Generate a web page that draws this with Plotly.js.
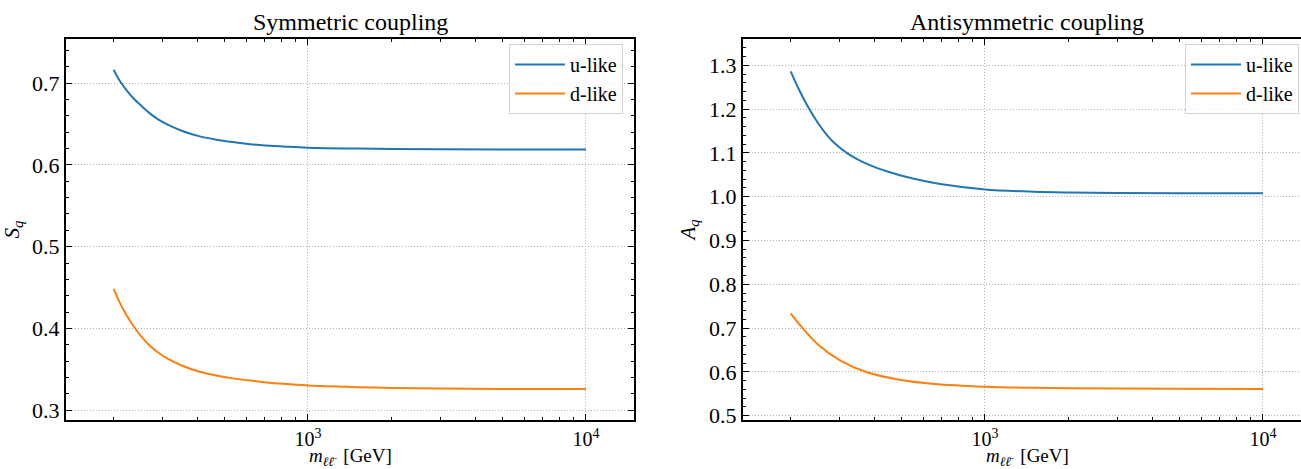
<!DOCTYPE html>
<html>
<head>
<meta charset="utf-8">
<script src="https://cdn.plot.ly/plotly-3.0.1.min.js"></script>
<style>
  body { margin: 0; background: #fff; }
  #frame { width: 1301px; height: 469px; overflow: hidden; }
  #plot { width: 1312px; height: 469px; }
</style>
</head>
<body>
<div id="frame"><div id="plot"></div></div>
<script>
// values (m in GeV)
const m_sym = [200, 210, 222, 235, 252, 270, 289, 310, 355, 408, 468, 537, 617, 708, 813, 1000, 1500, 2000, 3000, 5000, 10000];
const s_u   = [0.7164, 0.7032, 0.6917, 0.6818, 0.6720, 0.6630, 0.6556, 0.6498, 0.6411, 0.6349, 0.6309, 0.6279, 0.6254, 0.6238, 0.6226, 0.6210, 0.6200, 0.6195, 0.6192, 0.6190, 0.6189];
const s_d   = [0.4483, 0.4318, 0.4168, 0.4036, 0.3896, 0.3788, 0.3705, 0.3636, 0.3540, 0.3470, 0.3424, 0.3389, 0.3362, 0.3340, 0.3322, 0.3302, 0.3282, 0.3272, 0.3265, 0.3260, 0.3258];

const m_asym_u = [200, 214, 230, 250, 271, 294, 320, 348, 378, 410, 446, 498, 555, 700, 1000, 1500, 2000, 3000, 5000, 10000];
const a_u      = [1.2863, 1.2452, 1.2069, 1.1692, 1.1395, 1.1167, 1.0989, 1.0852, 1.0742, 1.0651, 1.0573, 1.0484, 1.0409, 1.0283, 1.0165, 1.0112, 1.0096, 1.0086, 1.0080, 1.0078];
const m_asym_d = [200, 217, 250, 303, 378, 498, 655, 1000, 1500, 2000, 3000, 5000, 10000];
const a_d      = [0.7333, 0.7053, 0.6632, 0.6251, 0.5984, 0.5815, 0.5724, 0.5662, 0.5635, 0.5625, 0.5618, 0.5613, 0.5610];

const series_names = ['u-like', 'd-like'];
const panel_titles = ['Symmetric coupling', 'Antisymmetric coupling'];
const x_label = '<i>m</i><sub><i>ℓℓ̄</i></sub>&nbsp; [GeV]';
const x_tick_vals = [1000, 10000];
const x_tick_text = ['10<sup>3</sup>', '10<sup>4</sup>'];

const W = 1312, H = 469;
const FONT = '"Liberation Serif", "Times New Roman", serif';
const BLUE = '#1f77b4', ORANGE = '#ff7f0e';

// minor tick positions on the log axis: 2..9 of each decade
const x_minor = [];
for (const dec of [100, 1000, 10000]) {
    for (let k = 2; k <= 9; k++) x_minor.push(k * dec);
}

function px(x) { return x / W; }
function py(y) { return (H - y) / H; }

const axisBase = {
    showline: true, linecolor: 'black', linewidth: 2, mirror: 'allticks',
    ticks: 'inside', ticklen: 6, tickwidth: 1, tickcolor: 'black',
    showgrid: true, gridcolor: '#b0b0b0', gridwidth: 1, griddash: '1px,2px',
    zeroline: false,
    tickfont: { family: FONT, size: 20, color: 'black' }
};

function xAxis(domain, anchor) {
    return Object.assign({}, axisBase, {
        type: 'log',
        domain: domain,
        anchor: anchor,
        range: [2.1295, 4.1727],
        tickmode: 'array',
        tickvals: x_tick_vals,
        ticktext: x_tick_text,
        minor: { tickmode: 'array', tickvals: x_minor, ticks: 'inside', ticklen: 3, tickwidth: 1, tickcolor: 'black', showgrid: false }
    });
}

function yAxis(domain, anchor, range, label) {
    return Object.assign({}, axisBase, {
        domain: domain,
        anchor: anchor,
        range: range,
        tick0: 0, dtick: 0.1,
        tickformat: '.1f',
        tickfont: { family: FONT, size: 22, color: 'black' },
        minor: { dtick: 0.02, ticks: 'inside', ticklen: 3, tickwidth: 1, tickcolor: 'black', showgrid: false },
        title: { text: label, font: { family: FONT, size: 21, color: 'black' }, standoff: 8 }
    });
}

const yDom = [py(420), py(39)];

const traces = [
    { x: m_sym, y: s_u, name: series_names[0], xaxis: 'x', yaxis: 'y', legend: 'legend' },
    { x: m_sym, y: s_d, name: series_names[1], xaxis: 'x', yaxis: 'y', legend: 'legend' },
    { x: m_asym_u, y: a_u, name: series_names[0], xaxis: 'x2', yaxis: 'y2', legend: 'legend2' },
    { x: m_asym_d, y: a_d, name: series_names[1], xaxis: 'x2', yaxis: 'y2', legend: 'legend2' }
].map((t, i) => Object.assign({
    type: 'scatter', mode: 'lines',
    line: { color: i % 2 === 0 ? BLUE : ORANGE, width: 2, shape: 'spline', smoothing: 1 },
    hoverinfo: 'skip'
}, t));

const legendBase = {
    xanchor: 'right', yanchor: 'top',
    bgcolor: 'rgba(255,255,255,0.8)', bordercolor: '#d4d4d4', borderwidth: 1,
    itemwidth: 50,
    font: { family: FONT, size: 20, color: 'black' }
};

const textBase = {
    xref: 'paper', yref: 'paper', xanchor: 'center', showarrow: false
};

const layout = {
    width: W, height: H,
    margin: { l: 0, r: 0, t: 0, b: 0 },
    paper_bgcolor: 'white', plot_bgcolor: 'white',
    showlegend: true,
    xaxis: xAxis([px(66), px(634)], 'y'),
    yaxis: yAxis(yDom, 'x', [0.288, 0.754], '<i>S<sub>q</sub></i>'),
    xaxis2: xAxis([px(743), px(1311)], 'y2'),
    yaxis2: yAxis(yDom, 'x2', [0.490, 1.360], '<i>A<sub>q</sub></i>'),
    legend: Object.assign({}, legendBase, { x: px(623), y: py(44) }),
    legend2: Object.assign({}, legendBase, { x: px(1299), y: py(44) }),
    annotations: [
        { text: panel_titles[0], x: px(350), y: py(22), yanchor: 'middle', font: { family: FONT, size: 24, color: 'black' } },
        { text: panel_titles[1], x: px(1027), y: py(22), yanchor: 'middle', font: { family: FONT, size: 24, color: 'black' } },
        { text: x_label, x: px(350), y: 0, yanchor: 'bottom', yshift: -2, font: { family: FONT, size: 19, color: 'black' } },
        { text: x_label, x: px(1027), y: 0, yanchor: 'bottom', yshift: -2, font: { family: FONT, size: 19, color: 'black' } }
    ].map(a => Object.assign({}, textBase, a))
};

Plotly.newPlot('plot', traces, layout, { displayModeBar: false, staticPlot: true });
</script>
</body>
</html>
